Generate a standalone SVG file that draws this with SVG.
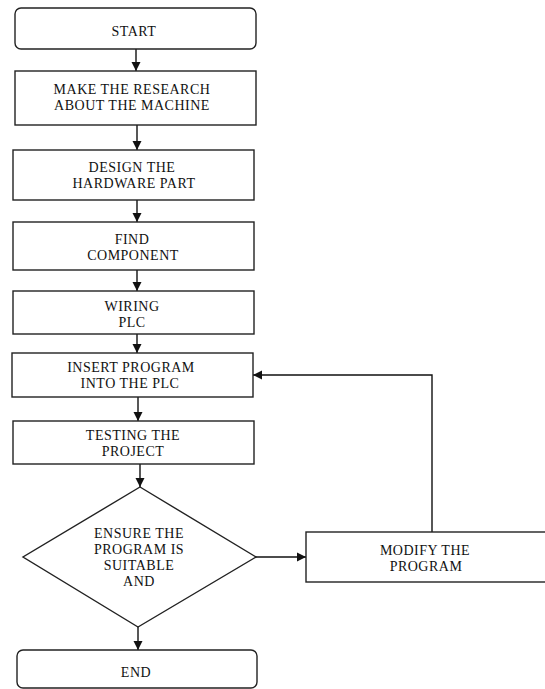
<svg xmlns="http://www.w3.org/2000/svg" width="545" height="689" viewBox="0 0 545 689">
<style>
.box{fill:#fff;stroke:#222;stroke-width:1.4}
.t{font-family:"Liberation Serif","Times New Roman",serif;font-size:14px;letter-spacing:0.5px;fill:#111;text-anchor:middle}
.c{fill:none;stroke:#111;stroke-width:1.4}
</style>
<defs>
<marker id="ah" markerUnits="userSpaceOnUse" markerWidth="10" markerHeight="10" refX="9" refY="5" orient="auto">
<path d="M0,0.5 L9,5 L0,9.5 Z" fill="#111"/>
</marker>
</defs>
<rect width="545" height="689" fill="#fff"/>
<g id="connectors">
<line class="c" x1="136" y1="49" x2="136" y2="71" marker-end="url(#ah)"/>
<line class="c" x1="137" y1="125" x2="137" y2="150" marker-end="url(#ah)"/>
<line class="c" x1="137" y1="200" x2="137" y2="222" marker-end="url(#ah)"/>
<line class="c" x1="137" y1="270" x2="137" y2="291" marker-end="url(#ah)"/>
<line class="c" x1="137" y1="334" x2="137" y2="353" marker-end="url(#ah)"/>
<line class="c" x1="138" y1="397" x2="138" y2="421" marker-end="url(#ah)"/>
<line class="c" x1="140" y1="464" x2="140" y2="487" marker-end="url(#ah)"/>
<line class="c" x1="138" y1="627" x2="138" y2="650" marker-end="url(#ah)"/>
<line class="c" x1="256" y1="557" x2="306" y2="557" marker-end="url(#ah)"/>
<polyline class="c" points="432,532 432,375 253,375" marker-end="url(#ah)"/>
</g>
<g id="start">
<rect class="box" x="15" y="8" width="241" height="41" rx="6"/>
<text class="t" x="134" y="36">START</text>
</g>
<g id="research">
<rect class="box" x="15" y="71" width="241" height="54"/>
<text class="t" x="132" y="94">MAKE THE RESEARCH</text>
<text class="t" x="132" y="110">ABOUT THE MACHINE</text>
</g>
<g id="design">
<rect class="box" x="13" y="150" width="241" height="50"/>
<text class="t" x="132" y="172">DESIGN THE</text>
<text class="t" x="134" y="188">HARDWARE PART</text>
</g>
<g id="find">
<rect class="box" x="13" y="222" width="241" height="48"/>
<text class="t" x="132" y="244">FIND</text>
<text class="t" x="133" y="260">COMPONENT</text>
</g>
<g id="wiring">
<rect class="box" x="13" y="291" width="241" height="43"/>
<text class="t" x="132" y="311">WIRING</text>
<text class="t" x="132" y="327">PLC</text>
</g>
<g id="insert">
<rect class="box" x="12" y="353" width="241" height="44"/>
<text class="t" x="131" y="372">INSERT PROGRAM</text>
<text class="t" x="130" y="388">INTO THE PLC</text>
</g>
<g id="testing">
<rect class="box" x="13" y="421" width="241" height="43"/>
<text class="t" x="133" y="440">TESTING THE</text>
<text class="t" x="133" y="456">PROJECT</text>
</g>
<g id="ensure">
<polygon class="box" points="140,487 256,557 138,627 23,557"/>
<text class="t" x="139" y="538">ENSURE THE</text>
<text class="t" x="139" y="554">PROGRAM IS</text>
<text class="t" x="139" y="570">SUITABLE</text>
<text class="t" x="139" y="586">AND</text>
</g>
<g id="modify">
<rect class="box" x="306" y="532" width="250" height="50"/>
<text class="t" x="425" y="555">MODIFY THE</text>
<text class="t" x="426" y="571">PROGRAM</text>
</g>
<g id="end">
<rect class="box" x="17" y="650" width="240" height="38" rx="6"/>
<text class="t" x="136" y="677">END</text>
</g>
</svg>
